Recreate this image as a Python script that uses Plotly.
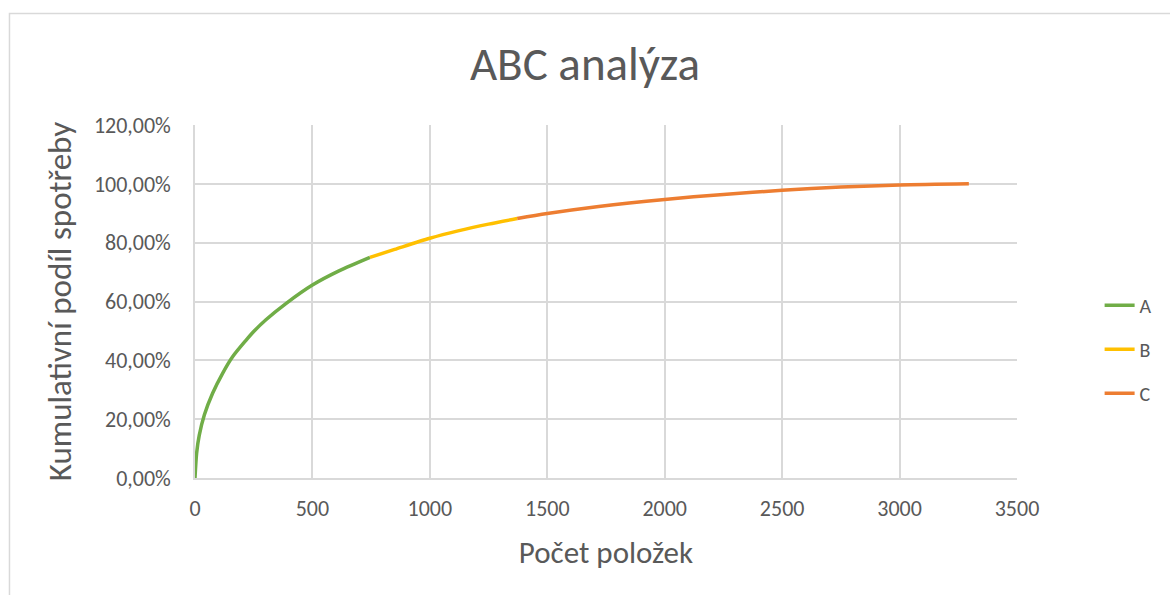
import plotly.graph_objects as go

# Cumulative share of consumption (%) by number of items, split into ABC classes
a_items = [0, 7, 18, 40, 75, 117, 160, 217, 250, 302, 387, 500, 613, 745]
a_share = [0, 8.5, 14.5, 21.5, 28.8, 35.5, 41.2, 46.8, 49.8, 53.8, 59.3, 65.6, 70.4, 75.0]

b_items = [745, 850, 1000, 1120, 1250, 1372]
b_share = [75.0, 77.7, 81.5, 84.0, 86.3, 88.2]

c_items = [1372, 1500, 1719, 2000, 2250, 2500, 2750, 3000, 3295]
c_share = [88.2, 89.9, 92.3, 94.7, 96.4, 97.8, 98.9, 99.6, 100.0]

classes = ["A", "B", "C"]
colors = ["#70AD47", "#FFC000", "#ED7D31"]

x_ticks = [0, 500, 1000, 1500, 2000, 2500, 3000, 3500]
y_ticks = [0, 20, 40, 60, 80, 100, 120]

FONT = "Calibri, Carlito, Lato, sans-serif"
TEXT = "#595959"
GRID = "#D9D9D9"

fig = go.Figure()
for name, xs, ys, col in zip(classes, [a_items, b_items, c_items],
                             [a_share, b_share, c_share], colors):
    fig.add_trace(go.Scatter(
        x=xs, y=ys, name=name, legendgroup=name, mode="lines",
        line=dict(color=col, width=3.5, shape="spline", smoothing=0.8),
    ))

fig.update_layout(
    width=1170, height=595,
    margin=dict(l=195, r=153, t=125, b=117),
    paper_bgcolor="white", plot_bgcolor="white",
    separators=", ",
    font=dict(family=FONT, color=TEXT),
    title=dict(text="ABC analýza", x=0.5, xanchor="center",
               y=0.893, yanchor="middle",
               font=dict(size=47, color=TEXT, family=FONT)),
    legend=dict(x=1.1005, xanchor="left", y=0.365, yanchor="middle",
                font=dict(size=20, color=TEXT, family=FONT),
                tracegroupgap=15, bgcolor="rgba(0,0,0,0)"),
    showlegend=True,
)

fig.update_xaxes(
    range=[0, 3500], tickvals=x_ticks, ticktext=[str(v) for v in x_ticks],
    showgrid=True, gridcolor=GRID, gridwidth=1.5,
    showline=True, linecolor=GRID, linewidth=1.5,
    zeroline=False, ticks="", tickfont=dict(size=22, color=TEXT),
    ticklabelstandoff=10,
    title=dict(text="Počet položek", font=dict(size=31, color=TEXT), standoff=20),
)
fig.update_yaxes(
    range=[0, 120], tickvals=y_ticks,
    ticktext=[f"{v},00%" for v in y_ticks],
    showgrid=True, gridcolor=GRID, gridwidth=1.5,
    showline=True, linecolor=GRID, linewidth=1.5,
    zeroline=False, ticks="", tickfont=dict(size=22, color=TEXT),
    ticklabelstandoff=18,
    title=dict(text="Kumulativní podíl spotřeby", font=dict(size=33, color=TEXT),
               standoff=12),
)

# Outer chart-area frame
fig.add_shape(type="rect", xref="paper", yref="paper",
              x0=-0.2257, x1=1.5, y0=-0.6, y1=1.316,
              line=dict(color=GRID, width=1.5), fillcolor="rgba(0,0,0,0)",
              layer="below")

fig.write_html("out.html")
